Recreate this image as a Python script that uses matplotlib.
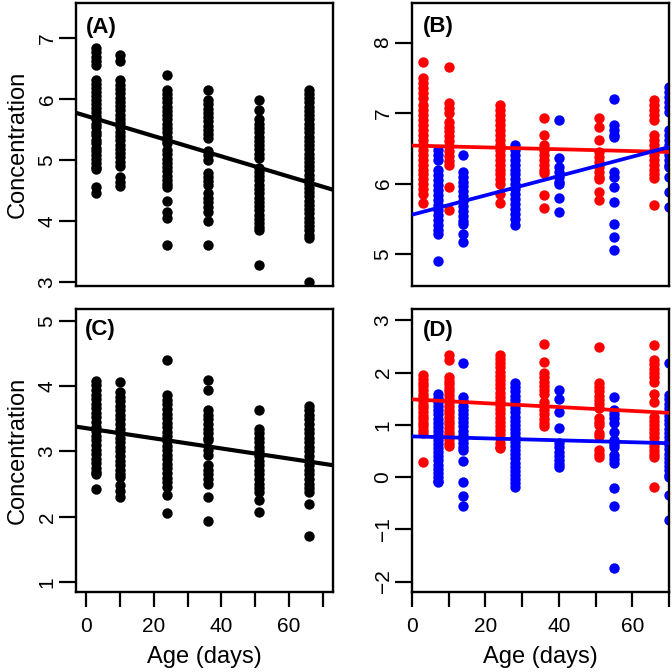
import matplotlib
matplotlib.use("Agg")
import matplotlib.pyplot as plt

plt.rcParams['font.family'] = ['Liberation Sans', 'DejaVu Sans']

# ---------------- Panel A (black) ----------------
a_ages = [3, 10, 24, 36, 51, 66]
a_vals = [
    [6.83, 6.76, 6.69, 6.62, 6.55, 6.30, 6.24, 6.18, 6.11, 6.05, 5.98, 5.92, 5.85, 5.79, 5.72, 5.66, 5.59, 5.53,
     5.46, 5.40, 5.33, 5.27, 5.20, 5.14, 5.07, 5.01, 4.94, 4.88, 4.85, 4.55, 4.45],
    [6.72, 6.62, 6.30, 6.23, 6.16, 6.09, 6.02, 5.95, 5.88, 5.81, 5.74, 5.67, 5.60, 5.53, 5.46, 5.39, 5.32, 5.25,
     5.18, 5.11, 5.04, 4.97, 4.90, 4.72, 4.64, 4.57],
    [6.39, 6.15, 6.08, 6.01, 5.94, 5.87, 5.80, 5.73, 5.66, 5.59, 5.52, 5.45, 5.38, 5.31, 5.27, 5.16, 5.09, 5.02,
     4.95, 4.88, 4.81, 4.74, 4.67, 4.60, 4.56, 4.33, 4.15, 4.05, 3.61],
    [6.15, 5.98, 5.91, 5.84, 5.77, 5.70, 5.63, 5.56, 5.49, 5.42, 5.36, 5.14, 5.07, 5.00, 4.79, 4.72, 4.65, 4.59,
     4.46, 4.38, 4.30, 4.22, 4.15, 3.99, 3.61],
    [5.98, 5.82, 5.66, 5.59, 5.52, 5.45, 5.38, 5.31, 5.24, 5.17, 5.10, 5.03, 4.87, 4.80, 4.73, 4.66, 4.59, 4.52,
     4.45, 4.38, 4.31, 4.24, 4.17, 4.10, 4.03, 3.96, 3.89, 3.85, 3.28],
    [6.15, 6.08, 6.01, 5.94, 5.87, 5.80, 5.73, 5.66, 5.59, 5.52, 5.45, 5.38, 5.31, 5.24, 5.17, 5.10, 5.03, 4.96,
     4.89, 4.84, 4.75, 4.68, 4.61, 4.54, 4.47, 4.40, 4.33, 4.26, 4.19, 4.12, 4.05, 3.98, 3.91, 3.84, 3.77, 3.72, 3.00],
]
a_line = (5.72, -0.0166)

# ---------------- Panel B (red / blue) ----------------
b_red_ages = [3, 10, 24, 36, 51, 66]
b_red_vals = [
    [7.73, 7.50, 7.43, 7.36, 7.29, 7.22, 7.11, 7.04, 6.97, 6.90, 6.83, 6.76, 6.69, 6.62, 6.55, 6.48, 6.41, 6.34,
     6.27, 6.20, 6.13, 6.06, 5.99, 5.92, 5.85, 5.72],
    [7.66, 7.14, 7.07, 7.00, 6.88, 6.81, 6.74, 6.67, 6.60, 6.53, 6.46, 6.39, 6.32, 6.26, 5.95, 5.62],
    [7.11, 7.04, 6.97, 6.90, 6.83, 6.76, 6.69, 6.62, 6.55, 6.48, 6.41, 6.34, 6.27, 6.20, 6.13, 6.06, 6.00, 5.86, 5.72],
    [6.93, 6.69, 6.55, 6.48, 6.41, 6.34, 6.27, 6.20, 6.15, 5.84, 5.65],
    [6.93, 6.81, 6.62, 6.45, 6.38, 6.31, 6.24, 6.17, 6.10, 6.07, 5.88, 5.77],
    [7.19, 7.12, 7.05, 6.98, 6.90, 6.69, 6.62, 6.55, 6.48, 6.41, 6.34, 6.27, 6.20, 6.13, 6.08, 5.70],
]
b_blue_ages = [7, 14, 28, 40, 55, 70]
b_blue_vals = [
    [6.48, 6.40, 6.33, 6.19, 6.12, 6.05, 5.98, 5.91, 5.84, 5.77, 5.70, 5.63, 5.56, 5.49, 5.42, 5.35, 5.28, 4.91],
    [6.41, 6.17, 6.10, 6.03, 5.96, 5.89, 5.82, 5.75, 5.68, 5.61, 5.54, 5.47, 5.43, 5.29, 5.17],
    [6.55, 6.48, 6.41, 6.34, 6.27, 6.20, 6.13, 6.06, 5.99, 5.92, 5.85, 5.78, 5.71, 5.64, 5.57, 5.50, 5.41],
    [6.90, 6.36, 6.24, 6.17, 6.10, 6.03, 6.00, 5.79, 5.60],
    [7.20, 6.83, 6.76, 6.69, 6.66, 6.17, 6.10, 5.95, 5.74, 5.43, 5.24, 5.06],
    [7.37, 7.30, 7.23, 7.16, 7.09, 7.02, 6.76, 6.69, 6.62, 6.55, 6.48, 6.41, 6.34, 6.27, 6.24, 6.10, 5.88, 5.67],
]
b_red_line = (6.54, -0.0013)
b_blue_line = (5.56, 0.0137)

# ---------------- Panel C (black) ----------------
c_ages = [3, 10, 24, 36, 51, 66]
c_vals = [
    [4.08, 4.01, 3.94, 3.87, 3.80, 3.73, 3.66, 3.59, 3.52, 3.45, 3.38, 3.31, 3.24, 3.17, 3.10, 3.03, 2.96, 2.89,
     2.82, 2.75, 2.68, 2.65, 2.42],
    [4.07, 3.91, 3.84, 3.77, 3.70, 3.63, 3.56, 3.49, 3.42, 3.35, 3.28, 3.21, 3.14, 3.07, 3.00, 2.93, 2.86, 2.79,
     2.72, 2.65, 2.61, 2.49, 2.40, 2.31],
    [4.40, 3.86, 3.79, 3.72, 3.65, 3.58, 3.51, 3.44, 3.37, 3.30, 3.23, 3.16, 3.09, 3.02, 2.95, 2.88, 2.81, 2.74,
     2.67, 2.60, 2.53, 2.46, 2.33, 2.06],
    [4.09, 3.94, 3.63, 3.56, 3.49, 3.42, 3.35, 3.28, 3.21, 3.17, 3.02, 2.94, 2.79, 2.72, 2.65, 2.58, 2.51, 2.31, 1.94],
    [3.64, 3.35, 3.28, 3.21, 3.14, 3.07, 3.00, 2.93, 2.86, 2.79, 2.72, 2.65, 2.58, 2.51, 2.44, 2.38, 2.26, 2.08],
    [3.70, 3.63, 3.56, 3.49, 3.42, 3.35, 3.28, 3.21, 3.14, 3.07, 3.00, 2.93, 2.86, 2.79, 2.72, 2.65, 2.58, 2.51,
     2.44, 2.38, 2.19, 1.70],
]
c_line = (3.357, -0.00777)

# ---------------- Panel D (red / blue) ----------------
d_red_ages = [3, 10, 24, 36, 51, 66]
d_red_vals = [
    [1.95, 1.88, 1.81, 1.74, 1.67, 1.60, 1.53, 1.46, 1.39, 1.32, 1.25, 1.18, 1.11, 1.04, 0.97, 0.90, 0.85, 0.29],
    [2.34, 2.24, 1.92, 1.85, 1.78, 1.71, 1.64, 1.57, 1.50, 1.43, 1.36, 1.29, 1.22, 1.15, 1.08, 1.01, 0.94, 0.87,
     0.80, 0.73, 0.66, 0.60],
    [2.34, 2.26, 2.18, 2.10, 2.02, 1.94, 1.86, 1.78, 1.70, 1.62, 1.54, 1.46, 1.38, 1.30, 1.22, 1.14, 1.06, 0.98,
     0.90, 0.82, 0.74, 0.66, 0.58, 0.56],
    [2.55, 2.21, 1.99, 1.91, 1.83, 1.75, 1.67, 1.59, 1.44, 1.36, 1.28, 1.20, 1.12, 1.04, 0.97],
    [2.49, 1.80, 1.72, 1.64, 1.56, 1.48, 1.40, 1.32, 1.13, 1.05, 1.00, 0.84, 0.78, 0.52, 0.45, 0.39],
    [2.53, 2.24, 2.16, 2.08, 2.00, 1.92, 1.83, 1.60, 1.44, 1.16, 1.08, 1.00, 0.92, 0.84, 0.76, 0.68, 0.60, 0.52,
     0.44, 0.39, -0.19],
]
d_blue_ages = [7, 14, 28, 40, 55, 70]
d_blue_vals = [
    [1.60, 1.52, 1.44, 1.36, 1.28, 1.20, 1.12, 1.04, 0.96, 0.88, 0.80, 0.72, 0.64, 0.56, 0.48, 0.40, 0.32, 0.24,
     0.16, 0.08, 0.00, -0.08, -0.10],
    [2.18, 1.53, 1.45, 1.37, 1.29, 1.21, 1.13, 1.05, 0.97, 0.89, 0.81, 0.73, 0.65, 0.57, 0.52, 0.30, -0.09, -0.37, -0.56],
    [1.80, 1.72, 1.64, 1.56, 1.48, 1.40, 1.32, 1.24, 1.16, 1.08, 1.00, 0.92, 0.84, 0.76, 0.68, 0.60, 0.52, 0.44,
     0.36, 0.28, 0.20, 0.12, 0.04, -0.04, -0.12, -0.18],
    [1.66, 1.50, 1.25, 0.94, 0.65, 0.57, 0.49, 0.41, 0.33, 0.25, 0.20],
    [1.53, 1.29, 1.21, 1.13, 1.03, 0.87, 0.71, 0.63, 0.58, 0.42, 0.34, 0.27, -0.21, -0.56, -1.74],
    [2.18, 1.57, 1.49, 1.41, 1.33, 1.25, 1.17, 1.09, 1.01, 0.93, 0.85, 0.77, 0.69, 0.61, 0.53, 0.45, 0.37, 0.29,
     0.21, 0.13, 0.05, 0.01, -0.34, -0.82],
]
d_red_line = (1.49, -0.0037)
d_blue_line = (0.78, -0.00186)

panel_labels = ["(A)", "(B)", "(C)", "(D)"]
x_ticks = [0, 10, 20, 30, 40, 50, 60, 70]
x_ticklabels = ["0", "", "20", "", "40", "", "60", ""]
xlabel = "Age (days)"
ylabel = "Concentration"

RED = "#ff0000"
BLUE = "#0000ff"
S = 56
TICK_FS = 15
LAB_FS = 17

fig = plt.figure(figsize=(6.72, 6.72), dpi=100)
W = 672.0

def rect(l, r, t, b):
    return [l / W, 1 - b / W, (r - l) / W, (b - t) / W]

axA = fig.add_axes(rect(76, 333, 3, 286))
axB = fig.add_axes(rect(412, 669, 3, 286))
axC = fig.add_axes(rect(76, 333, 309, 592))
axD = fig.add_axes(rect(412, 669, 309, 592))


def scatter_cols(ax, ages, vals, color):
    for age, col in zip(ages, vals):
        ax.scatter([age] * len(col), col, s=S, color=color, linewidths=0, zorder=2)


def style(ax, xlim, ylim, yticks, show_x, lab, labpos):
    ax.set_xlim(*xlim)
    ax.set_ylim(*ylim)
    for sp in ax.spines.values():
        sp.set_linewidth(1.7)
    ax.set_yticks(yticks)
    ax.set_yticklabels([("\u2212" + str(-v)) if v < 0 else str(v) for v in yticks],
                       rotation=90, va="center", fontsize=TICK_FS)
    ax.tick_params(axis="y", length=12, width=1.6, pad=2)
    if show_x:
        ax.set_xticks(x_ticks)
        ax.set_xticklabels(x_ticklabels, fontsize=TICK_FS)
        ax.tick_params(axis="x", length=11, width=1.6, pad=7)
    else:
        ax.set_xticks([])
    ax.text(labpos[0], labpos[1], lab, transform=ax.transAxes, fontsize=16,
            fontweight="bold", va="top", ha="left")


# A
scatter_cols(axA, a_ages, a_vals, "black")
axA.axline((0, a_line[0]), slope=a_line[1], color="black", lw=3.0, zorder=3)
style(axA, (-2.96, 73.0), (2.93, 7.57), [3, 4, 5, 6, 7], False, panel_labels[0], (0.040, 0.950))
axA.set_ylabel(ylabel, fontsize=LAB_FS, labelpad=6)

# B
scatter_cols(axB, b_red_ages, b_red_vals, RED)
scatter_cols(axB, b_blue_ages, b_blue_vals, BLUE)
axB.axline((0, b_red_line[0]), slope=b_red_line[1], color=RED, lw=2.7, zorder=3)
axB.axline((0, b_blue_line[0]), slope=b_blue_line[1], color=BLUE, lw=2.7, zorder=3)
style(axB, (0, 70), (4.55, 8.56), [5, 6, 7, 8], False, panel_labels[1], (0.044, 0.954))

# C
scatter_cols(axC, c_ages, c_vals, "black")
axC.axline((0, c_line[0]), slope=c_line[1], color="black", lw=3.0, zorder=3)
style(axC, (-2.96, 73.0), (0.85, 5.18), [1, 2, 3, 4, 5], True, panel_labels[2], (0.036, 0.965))
axC.set_ylabel(ylabel, fontsize=LAB_FS, labelpad=6)
axC.set_xlabel(xlabel, fontsize=LAB_FS, labelpad=7)

# D
scatter_cols(axD, d_red_ages, d_red_vals, RED)
scatter_cols(axD, d_blue_ages, d_blue_vals, BLUE)
axD.axline((0, d_red_line[0]), slope=d_red_line[1], color=RED, lw=2.7, zorder=3)
axD.axline((0, d_blue_line[0]), slope=d_blue_line[1], color=BLUE, lw=2.7, zorder=3)
style(axD, (0, 70), (-2.2, 3.22), [-2, -1, 0, 1, 2, 3], True, panel_labels[3], (0.044, 0.962))
axD.set_xlabel(xlabel, fontsize=LAB_FS, labelpad=7)

fig.savefig("out.png", dpi=100)
